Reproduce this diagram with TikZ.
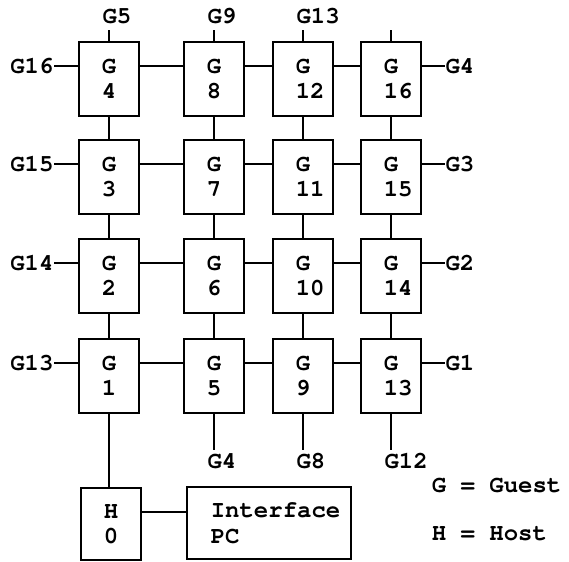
\documentclass[tikz,border=0pt]{standalone}
\usepackage{fontspec}
\newfontfamily\cour{TeX Gyre Cursor}
\newcommand\gnum[1]{G\\\makebox[0.6em][l]{#1}}
\begin{document}
\begin{tikzpicture}[x=1pt,y=-1pt,line width=1.5pt,
  every node/.style={font=\cour\bfseries\fontsize{24}{25}\selectfont,inner sep=0pt},
  gbox/.style={draw,minimum width=60pt,minimum height=74pt,align=center},
  hbox/.style={draw,minimum width=60pt,minimum height=72pt,align=center},
  pcbox/.style={draw,minimum width=164pt,minimum height=72pt},
  lbl/.style={anchor=base west}]
\useasboundingbox (0,0) rectangle (569,561);
% grid of guests
\node[gbox] (g4)  at (109,79)  {\gnum{4}};
\node[gbox] (g3)  at (109,177) {\gnum{3}};
\node[gbox] (g2)  at (109,276) {\gnum{2}};
\node[gbox] (g1)  at (109,376) {\gnum{1}};
\node[gbox] (g8)  at (214,79)  {\gnum{8}};
\node[gbox] (g7)  at (214,177) {\gnum{7}};
\node[gbox] (g6)  at (214,276) {\gnum{6}};
\node[gbox] (g5)  at (214,376) {\gnum{5}};
\node[gbox] (g12) at (303,79)  {\gnum{12}};
\node[gbox] (g11) at (303,177) {\gnum{11}};
\node[gbox] (g10) at (303,276) {\gnum{10}};
\node[gbox] (g9)  at (303,376) {\gnum{9}};
\node[gbox] (g16) at (391,79)  {\gnum{16}};
\node[gbox] (g15) at (391,177) {\gnum{15}};
\node[gbox] (g14) at (391,276) {\gnum{14}};
\node[gbox] (g13) at (391,376) {\gnum{13}};
% host and PC
\node[hbox] (h0) at (111,524) {H\\0};
\node[pcbox] (pc) at (269,523) {};
\node[lbl] (pct1) at (210,517) {Interface};
\node[lbl] (pct2) at (210,543) {PC};
% horizontal links
\foreach \a/\b in {g4/g8,g8/g12,g12/g16,g3/g7,g7/g11,g11/g15,g2/g6,g6/g10,g10/g14,g1/g5,g5/g9,g9/g13}
  \draw ([yshift=13pt]\a.east) -- ([yshift=13pt]\b.west);
% vertical links
\foreach \a/\b in {g4/g3,g3/g2,g2/g1,g8/g7,g7/g6,g6/g5,g12/g11,g11/g10,g10/g9,g16/g15,g15/g14,g14/g13}
  \draw (\a.south) -- (\b.north);
\draw (g1.south) -- (g1.south |- h0.north);
\draw ([yshift=12pt]h0.east) -- ([yshift=12pt]h0.east -| pc.west);
% left labels
\foreach \n/\t in {g4/G16,g3/G15,g2/G14,g1/G13}{
  \node[anchor=east] (L\n) at ([xshift=-24pt,yshift=13pt]\n.west) {\t};
  \draw (L\n) -- ([yshift=13pt]\n.west);
}
% right labels
\foreach \n/\t in {g16/G4,g15/G3,g14/G2,g13/G1}{
  \node[anchor=west] (R\n) at ([xshift=23pt,yshift=13pt]\n.east) {\t};
  \draw ([yshift=13pt]\n.east) -- (R\n);
}
% top stubs
\foreach \n in {g4,g8,g12,g16}{
  \coordinate (T\n) at ([yshift=11pt]\n.north);
  \draw (\n.north) -- (T\n);
}
\node[lbl] (tl5)  at ([xshift=-7.2pt,yshift=7pt]Tg4)  {G5};
\node[lbl] (tl9)  at ([xshift=-7.2pt,yshift=7pt]Tg8)  {G9};
\node[lbl] (tl13) at ([xshift=-7.2pt,yshift=7pt]Tg12) {G13};
% bottom stubs
\foreach \n in {g5,g9,g13}{
  \coordinate (B\n) at ([yshift=-36pt]\n.south);
  \draw (\n.south) -- (B\n);
}
\node[lbl] (bl4)  at ([xshift=-7.2pt,yshift=-19pt]Bg5)  {G4};
\node[lbl] (bl8)  at ([xshift=-7.2pt,yshift=-19pt]Bg9)  {G8};
\node[lbl] (bl12) at ([xshift=-7.2pt,yshift=-19pt]Bg13) {G12};
% legend
\node[lbl] (leg1) at (431,492) {G = Guest};
\node[lbl] (leg2) at (431,540) {H = Host};
\end{tikzpicture}
\end{document}
